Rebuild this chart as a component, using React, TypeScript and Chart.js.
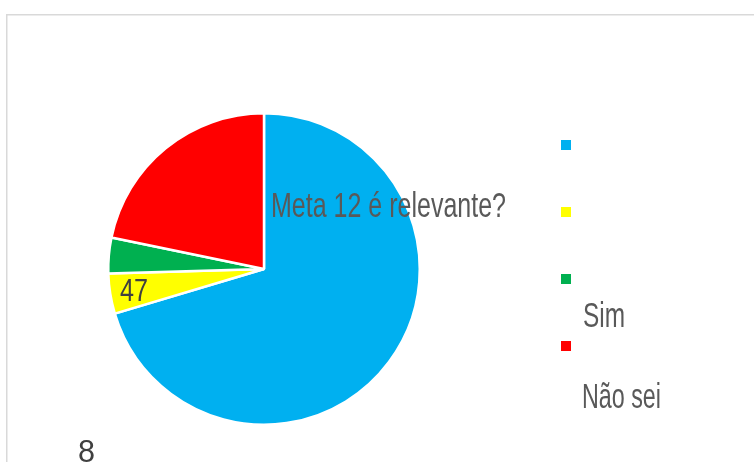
import React, { useEffect, useRef } from 'react';
import { Chart, registerables } from 'chart.js';

Chart.register(...registerables);

// ---- data ----
const categories = ['', '', 'Sim', 'Não sei'];
const values = [152, 9, 8, 47];
const colors = ['#00B0F0', '#FFFF00', '#00B050', '#FF0000'];
const titleText = 'Meta 12 é relevante?';

const FONT = "'Liberation Sans Narrow', 'Liberation Sans', Arial, sans-serif";

function fitText(
  ctx: CanvasRenderingContext2D,
  text: string,
  x: number,
  y: number,
  size: number,
  width: number,
  color: string
) {
  ctx.save();
  ctx.font = `${size}px ${FONT}`;
  const m = ctx.measureText(text).width || 1;
  ctx.translate(x, y);
  ctx.scale(width / m, 1);
  ctx.fillStyle = color;
  ctx.textBaseline = 'alphabetic';
  ctx.textAlign = 'left';
  ctx.fillText(text, 0, 0);
  ctx.restore();
}

const decorPlugin = {
  id: 'decor',
  beforeDraw(chart: any) {
    const ctx = chart.ctx as CanvasRenderingContext2D;
    ctx.save();
    ctx.fillStyle = '#ffffff';
    ctx.fillRect(0, 0, chart.width, chart.height);
    ctx.strokeStyle = '#d9d9d9';
    ctx.lineWidth = 1.5;
    ctx.strokeRect(6.75, 14.75, 900, 600);
    ctx.restore();
  },
  afterDraw(chart: any) {
    const ctx = chart.ctx as CanvasRenderingContext2D;
    const meta = chart.getDatasetMeta(0);
    const labels = chart.data.labels as string[];
    const ds = chart.data.datasets[0];

    // title
    fitText(ctx, titleText, 271, 217, 35, 235, '#595959');

    // data labels (as rendered in the reference)
    const arc = meta.data[1];
    if (arc) {
      const p = arc.getProps(['x', 'y', 'startAngle', 'endAngle', 'outerRadius'], true);
      const mid = (p.startAngle + p.endAngle) / 2;
      const r = p.outerRadius * 0.845;
      const cx = p.x + Math.cos(mid) * r;
      const cy = p.y + Math.sin(mid) * r;
      fitText(ctx, String(ds.data[3]), cx - 14, cy + 11, 31, 28, '#404040');
    }
    fitText(ctx, String(ds.data[2]), 78, 462, 31, 17, '#404040');

    // legend
    const boxX = 561;
    const boxTop = 140;
    const step = 67;
    for (let i = 0; i < labels.length; i++) {
      ctx.fillStyle = (ds.backgroundColor as string[])[i];
      ctx.fillRect(boxX, boxTop + i * step, 10, 10);
    }
    fitText(ctx, labels[2], 583, 327, 35, 42, '#595959');
    fitText(ctx, labels[3], 582, 408, 35, 79, '#595959');
  },
};

export default function App() {
  const ref = useRef<HTMLCanvasElement | null>(null);
  useEffect(() => {
    if (!ref.current) return;
    const chart = new Chart(ref.current, {
      type: 'pie',
      data: {
        labels: categories,
        datasets: [
          {
            data: values,
            backgroundColor: colors,
            borderColor: '#ffffff',
            borderWidth: 2.5,
            hoverOffset: 0,
            offset: 0,
          },
        ],
      },
      options: {
        responsive: false,
        animation: false,
        events: [],
        layout: { padding: { left: 107, top: 112, right: 333, bottom: 36 } },
        plugins: {
          legend: { display: false },
          tooltip: { enabled: false },
          title: { display: false },
        },
      },
      plugins: [decorPlugin],
    });
    return () => chart.destroy();
  }, []);
  return (
    <div style={{ position: 'fixed', left: 0, top: 0, width: 754, height: 462, background: '#fff' }}>
      <canvas ref={ref} width={754} height={462} style={{ display: 'block', width: 754, height: 462 }} />
    </div>
  );
}
